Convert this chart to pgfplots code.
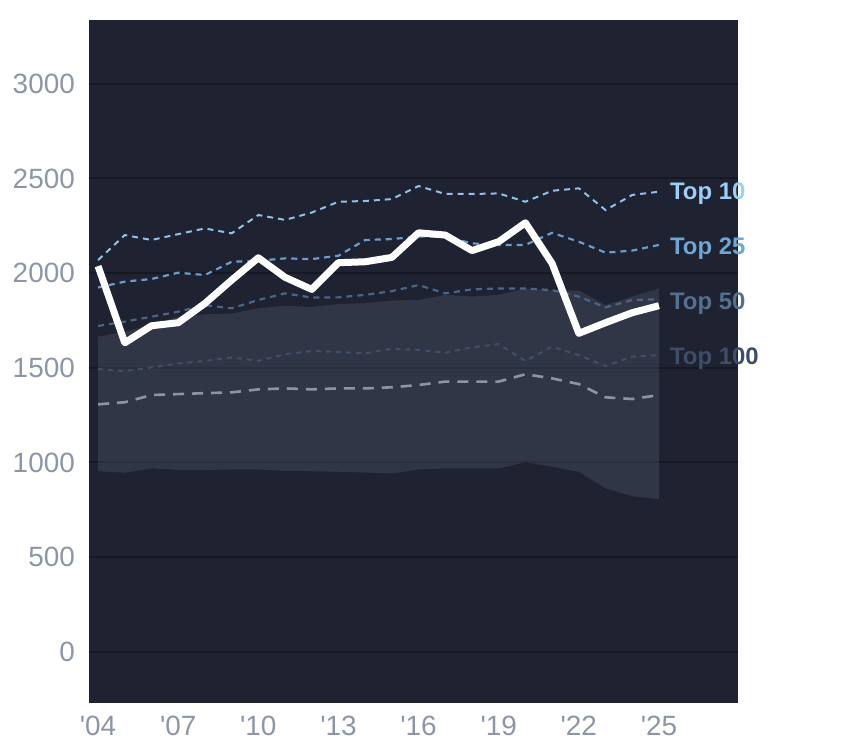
\documentclass[border=0pt]{standalone}
\usepackage{fontspec}
\setmainfont{Liberation Sans}
\newfontfamily\tickfont{Liberation Sans}
\usepackage{pgfplots}
\pgfplotsset{compat=1.18}
\definecolor{panel}{HTML}{1E2231}
\definecolor{gridc}{HTML}{161922}
\definecolor{bandc}{HTML}{8A93A8}
\definecolor{tickc}{HTML}{8C96A6}
\definecolor{t10}{HTML}{8EC3E6}
\definecolor{t25}{HTML}{6A9DCB}
\definecolor{t50}{HTML}{4B6588}
\definecolor{t100}{HTML}{414E67}
\definecolor{medc}{HTML}{9AA0AA}
\definecolor{l10}{HTML}{9CCFF5}
\definecolor{l25}{HTML}{6EA6D6}
\definecolor{l50}{HTML}{54708F}
\definecolor{l100}{HTML}{3F4E68}
\begin{document}
\begin{tikzpicture}
\useasboundingbox (-89bp,-45.3bp) rectangle (755bp,702.7bp);
\begin{axis}[
  at={(0,0)}, anchor=south west,
  scale only axis, width=649bp, height=682.7bp,
  xmin=2003.66, xmax=2027.96, ymin=-269, ymax=3337,
  axis background/.style={fill=panel},
  axis line style={draw=none},
  ymajorgrids, grid style={color=gridc, line width=2bp},
  major tick length=0pt, tick style={draw=none},
  ytick={0,500,1000,1500,2000,2500,3000},
  xtick={2004,2007,2010,2013,2016,2019,2022,2025},
  xticklabels={'04,'07,'10,'13,'16,'19,'22,'25},
  /pgf/number format/1000 sep={},
  /pgf/number format/assume math mode=true,
  ticklabel style={font=\tickfont\fontsize{28}{30}\selectfont, text=tickc, inner sep=0pt},
  yticklabel style={anchor=east, xshift=-14bp},
  xticklabel style={anchor=north, yshift=-13bp},
  clip=false,
]
% band
\addplot[draw=none, fill=bandc, fill opacity=0.185] coordinates {
(2004,1664) (2005,1691) (2006,1726) (2007,1770) (2008,1782) (2009,1787) (2010,1814)
(2011,1828) (2012,1821) (2013,1837) (2014,1841) (2015,1855) (2016,1858) (2017,1885)
(2018,1876) (2019,1885) (2020,1919) (2021,1908) (2022,1908) (2023,1831) (2024,1876) (2025,1919)
(2025,807) (2024,822) (2023,863) (2022,951) (2021,978) (2020,1001) (2019,969) (2018,969)
(2017,969) (2016,963) (2015,942) (2014,947) (2013,951) (2012,954) (2011,956) (2010,963)
(2009,963) (2008,960) (2007,960) (2006,969) (2005,946) (2004,954)
} -- cycle;
% median
\addplot[medc, opacity=0.9, line width=2.6bp, dash pattern=on 11bp off 8bp] coordinates {
(2004,1307) (2005,1318) (2006,1356) (2007,1361) (2008,1366) (2009,1370) (2010,1386)
(2011,1391) (2012,1386) (2013,1391) (2014,1391) (2015,1397) (2016,1409) (2017,1427)
(2018,1427) (2019,1427) (2020,1466) (2021,1444) (2022,1414) (2023,1344) (2024,1335) (2025,1356)
};
% top 100
\addplot[t100, line width=2bp, dash pattern=on 5bp off 5bp] coordinates {
(2004,1493) (2005,1482) (2006,1502) (2007,1523) (2008,1536) (2009,1555) (2010,1537)
(2011,1571) (2012,1589) (2013,1583) (2014,1576) (2015,1601) (2016,1594) (2017,1580)
(2018,1608) (2019,1625) (2020,1536) (2021,1612) (2022,1567) (2023,1509) (2024,1559) (2025,1567)
};
% top 50
\addplot[t50, line width=2.2bp, dash pattern=on 6bp off 5bp] coordinates {
(2004,1721) (2005,1744) (2006,1770) (2007,1796) (2008,1831) (2009,1814) (2010,1858)
(2011,1893) (2012,1871) (2013,1872) (2014,1885) (2015,1905) (2016,1937) (2017,1893)
(2018,1914) (2019,1919) (2020,1919) (2021,1910) (2022,1876) (2023,1819) (2024,1858) (2025,1862)
};
% top 25
\addplot[t25, line width=2.2bp, dash pattern=on 6bp off 5bp] coordinates {
(2004,1924) (2005,1955) (2006,1969) (2007,2002) (2008,1990) (2009,2060) (2010,2065)
(2011,2078) (2012,2074) (2013,2092) (2014,2175) (2015,2180) (2016,2193) (2017,2193)
(2018,2157) (2019,2149) (2020,2149) (2021,2213) (2022,2166) (2023,2108) (2024,2119) (2025,2149)
};
% top 10
\addplot[t10, line width=2bp, dash pattern=on 6bp off 5bp] coordinates {
(2004,2069) (2005,2201) (2006,2175) (2007,2206) (2008,2236) (2009,2210) (2010,2307)
(2011,2281) (2012,2320) (2013,2377) (2014,2381) (2015,2391) (2016,2460) (2017,2418)
(2018,2418) (2019,2421) (2020,2377) (2021,2435) (2022,2448) (2023,2333) (2024,2413) (2025,2430)
};
% main
\addplot[white, line width=7bp, line join=round] coordinates {
(2004,2037) (2005,1632) (2006,1722) (2007,1738) (2008,1840) (2009,1963) (2010,2081)
(2011,1978) (2012,1914) (2013,2055) (2014,2060) (2015,2083) (2016,2213) (2017,2201)
(2018,2119) (2019,2166) (2020,2266) (2021,2051) (2022,1682) (2023,1738) (2024,1791) (2025,1828)
};
\begin{scope}[every node/.style={anchor=base west, inner sep=0pt, font=\tickfont\bfseries\fontsize{24}{26}\selectfont}]
\node[text=l10] at (axis cs:2025.41,2390) {Top 10};
\node[text=l25] at (axis cs:2025.41,2101) {Top 25};
\node[text=l50] at (axis cs:2025.41,1809) {Top 50};
\node[text=l100] at (axis cs:2025.41,1518) {Top 100};
\end{scope}
\end{axis}
\end{tikzpicture}
\end{document}
